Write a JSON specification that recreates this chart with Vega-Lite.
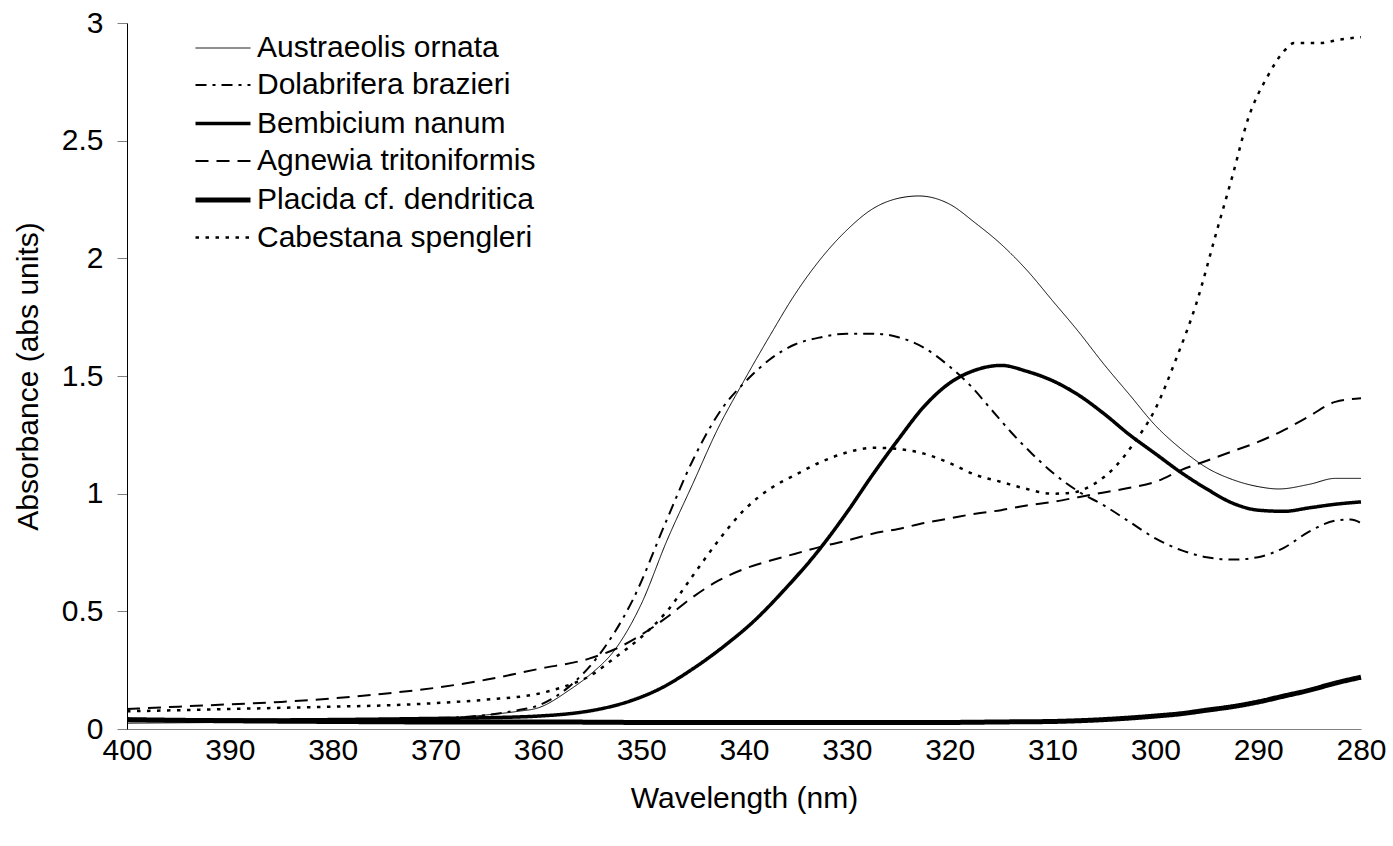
{
  "$schema": "https://vega.github.io/schema/vega-lite/v6.json",
  "width": 1234,
  "height": 706,
  "autosize": {"type": "none"},
  "padding": {"left": 127, "top": 23, "right": 32, "bottom": 117},
  "background": "white",
  "config": {
    "view": {"stroke": null},
    "font": "Liberation Sans",
    "axis": {
      "grid": false,
      "labelFont": "Liberation Sans",
      "labelFontSize": 30,
      "labelColor": "black",
      "labelFlush": false,
      "labelOverlap": false,
      "titleFont": "Liberation Sans",
      "titleFontSize": 30,
      "titleFontWeight": "normal",
      "titleColor": "black"
    }
  },
  "data": {
    "values": [
      {"species": "Austraeolis ornata", "nm": 400, "abs": 0.025},
      {"species": "Austraeolis ornata", "nm": 390, "abs": 0.028},
      {"species": "Austraeolis ornata", "nm": 380, "abs": 0.032},
      {"species": "Austraeolis ornata", "nm": 375, "abs": 0.035},
      {"species": "Austraeolis ornata", "nm": 370, "abs": 0.042},
      {"species": "Austraeolis ornata", "nm": 365, "abs": 0.06},
      {"species": "Austraeolis ornata", "nm": 362, "abs": 0.075},
      {"species": "Austraeolis ornata", "nm": 360, "abs": 0.09},
      {"species": "Austraeolis ornata", "nm": 357, "abs": 0.165},
      {"species": "Austraeolis ornata", "nm": 355, "abs": 0.23},
      {"species": "Austraeolis ornata", "nm": 352.5, "abs": 0.34},
      {"species": "Austraeolis ornata", "nm": 350, "abs": 0.53},
      {"species": "Austraeolis ornata", "nm": 347.5, "abs": 0.8},
      {"species": "Austraeolis ornata", "nm": 345, "abs": 1.04},
      {"species": "Austraeolis ornata", "nm": 342.5, "abs": 1.28},
      {"species": "Austraeolis ornata", "nm": 340, "abs": 1.48},
      {"species": "Austraeolis ornata", "nm": 337.5, "abs": 1.67},
      {"species": "Austraeolis ornata", "nm": 335, "abs": 1.85},
      {"species": "Austraeolis ornata", "nm": 332.5, "abs": 2.0},
      {"species": "Austraeolis ornata", "nm": 330, "abs": 2.12},
      {"species": "Austraeolis ornata", "nm": 327.5, "abs": 2.21},
      {"species": "Austraeolis ornata", "nm": 325, "abs": 2.255},
      {"species": "Austraeolis ornata", "nm": 323, "abs": 2.265},
      {"species": "Austraeolis ornata", "nm": 320, "abs": 2.23},
      {"species": "Austraeolis ornata", "nm": 317.5, "abs": 2.15},
      {"species": "Austraeolis ornata", "nm": 315, "abs": 2.06},
      {"species": "Austraeolis ornata", "nm": 312.5, "abs": 1.95},
      {"species": "Austraeolis ornata", "nm": 310, "abs": 1.82},
      {"species": "Austraeolis ornata", "nm": 307.5, "abs": 1.69},
      {"species": "Austraeolis ornata", "nm": 305, "abs": 1.55},
      {"species": "Austraeolis ornata", "nm": 302.5, "abs": 1.42},
      {"species": "Austraeolis ornata", "nm": 300, "abs": 1.29},
      {"species": "Austraeolis ornata", "nm": 297.5, "abs": 1.19},
      {"species": "Austraeolis ornata", "nm": 295, "abs": 1.11},
      {"species": "Austraeolis ornata", "nm": 292.5, "abs": 1.06},
      {"species": "Austraeolis ornata", "nm": 290, "abs": 1.03},
      {"species": "Austraeolis ornata", "nm": 288, "abs": 1.02},
      {"species": "Austraeolis ornata", "nm": 285, "abs": 1.04},
      {"species": "Austraeolis ornata", "nm": 282.5, "abs": 1.065},
      {"species": "Austraeolis ornata", "nm": 280, "abs": 1.065},

      {"species": "Dolabrifera brazieri", "nm": 400, "abs": 0.035},
      {"species": "Dolabrifera brazieri", "nm": 390, "abs": 0.035},
      {"species": "Dolabrifera brazieri", "nm": 380, "abs": 0.038},
      {"species": "Dolabrifera brazieri", "nm": 370, "abs": 0.045},
      {"species": "Dolabrifera brazieri", "nm": 365, "abs": 0.06},
      {"species": "Dolabrifera brazieri", "nm": 362, "abs": 0.08},
      {"species": "Dolabrifera brazieri", "nm": 360, "abs": 0.1},
      {"species": "Dolabrifera brazieri", "nm": 357, "abs": 0.18},
      {"species": "Dolabrifera brazieri", "nm": 354, "abs": 0.32},
      {"species": "Dolabrifera brazieri", "nm": 350.8, "abs": 0.55},
      {"species": "Dolabrifera brazieri", "nm": 347.5, "abs": 0.89},
      {"species": "Dolabrifera brazieri", "nm": 345, "abs": 1.14},
      {"species": "Dolabrifera brazieri", "nm": 342, "abs": 1.37},
      {"species": "Dolabrifera brazieri", "nm": 340, "abs": 1.47},
      {"species": "Dolabrifera brazieri", "nm": 337.5, "abs": 1.57},
      {"species": "Dolabrifera brazieri", "nm": 335, "abs": 1.635},
      {"species": "Dolabrifera brazieri", "nm": 332.5, "abs": 1.665},
      {"species": "Dolabrifera brazieri", "nm": 330, "abs": 1.68},
      {"species": "Dolabrifera brazieri", "nm": 327.5, "abs": 1.68},
      {"species": "Dolabrifera brazieri", "nm": 325, "abs": 1.665},
      {"species": "Dolabrifera brazieri", "nm": 322.5, "abs": 1.62},
      {"species": "Dolabrifera brazieri", "nm": 320, "abs": 1.54},
      {"species": "Dolabrifera brazieri", "nm": 318, "abs": 1.46},
      {"species": "Dolabrifera brazieri", "nm": 316, "abs": 1.36},
      {"species": "Dolabrifera brazieri", "nm": 314, "abs": 1.26},
      {"species": "Dolabrifera brazieri", "nm": 312, "abs": 1.17},
      {"species": "Dolabrifera brazieri", "nm": 310, "abs": 1.09},
      {"species": "Dolabrifera brazieri", "nm": 307.5, "abs": 1.01},
      {"species": "Dolabrifera brazieri", "nm": 305, "abs": 0.95},
      {"species": "Dolabrifera brazieri", "nm": 302.5, "abs": 0.88},
      {"species": "Dolabrifera brazieri", "nm": 300, "abs": 0.81},
      {"species": "Dolabrifera brazieri", "nm": 297.5, "abs": 0.76},
      {"species": "Dolabrifera brazieri", "nm": 295, "abs": 0.73},
      {"species": "Dolabrifera brazieri", "nm": 292.5, "abs": 0.72},
      {"species": "Dolabrifera brazieri", "nm": 290, "abs": 0.73},
      {"species": "Dolabrifera brazieri", "nm": 287.5, "abs": 0.77},
      {"species": "Dolabrifera brazieri", "nm": 285, "abs": 0.84},
      {"species": "Dolabrifera brazieri", "nm": 282.5, "abs": 0.885},
      {"species": "Dolabrifera brazieri", "nm": 281, "abs": 0.89},
      {"species": "Dolabrifera brazieri", "nm": 280, "abs": 0.875},

      {"species": "Bembicium nanum", "nm": 400, "abs": 0.04},
      {"species": "Bembicium nanum", "nm": 390, "abs": 0.038},
      {"species": "Bembicium nanum", "nm": 380, "abs": 0.04},
      {"species": "Bembicium nanum", "nm": 370, "abs": 0.045},
      {"species": "Bembicium nanum", "nm": 365, "abs": 0.048},
      {"species": "Bembicium nanum", "nm": 360, "abs": 0.055},
      {"species": "Bembicium nanum", "nm": 357, "abs": 0.065},
      {"species": "Bembicium nanum", "nm": 354, "abs": 0.085},
      {"species": "Bembicium nanum", "nm": 351, "abs": 0.12},
      {"species": "Bembicium nanum", "nm": 348, "abs": 0.175},
      {"species": "Bembicium nanum", "nm": 345, "abs": 0.255},
      {"species": "Bembicium nanum", "nm": 342, "abs": 0.35},
      {"species": "Bembicium nanum", "nm": 339, "abs": 0.46},
      {"species": "Bembicium nanum", "nm": 336, "abs": 0.595},
      {"species": "Bembicium nanum", "nm": 333, "abs": 0.745},
      {"species": "Bembicium nanum", "nm": 330, "abs": 0.92},
      {"species": "Bembicium nanum", "nm": 327.5, "abs": 1.08},
      {"species": "Bembicium nanum", "nm": 325, "abs": 1.23},
      {"species": "Bembicium nanum", "nm": 322.5, "abs": 1.37},
      {"species": "Bembicium nanum", "nm": 320, "abs": 1.47},
      {"species": "Bembicium nanum", "nm": 317.5, "abs": 1.525},
      {"species": "Bembicium nanum", "nm": 315, "abs": 1.545},
      {"species": "Bembicium nanum", "nm": 312.5, "abs": 1.52},
      {"species": "Bembicium nanum", "nm": 310, "abs": 1.48},
      {"species": "Bembicium nanum", "nm": 307.5, "abs": 1.42},
      {"species": "Bembicium nanum", "nm": 305, "abs": 1.34},
      {"species": "Bembicium nanum", "nm": 302.5, "abs": 1.25},
      {"species": "Bembicium nanum", "nm": 300, "abs": 1.17},
      {"species": "Bembicium nanum", "nm": 297.5, "abs": 1.09},
      {"species": "Bembicium nanum", "nm": 295, "abs": 1.02},
      {"species": "Bembicium nanum", "nm": 292.5, "abs": 0.96},
      {"species": "Bembicium nanum", "nm": 290, "abs": 0.93},
      {"species": "Bembicium nanum", "nm": 287.5, "abs": 0.925},
      {"species": "Bembicium nanum", "nm": 285, "abs": 0.94},
      {"species": "Bembicium nanum", "nm": 282.5, "abs": 0.955},
      {"species": "Bembicium nanum", "nm": 280, "abs": 0.965},

      {"species": "Agnewia tritoniformis", "nm": 400, "abs": 0.085},
      {"species": "Agnewia tritoniformis", "nm": 395, "abs": 0.095},
      {"species": "Agnewia tritoniformis", "nm": 390, "abs": 0.105},
      {"species": "Agnewia tritoniformis", "nm": 385, "abs": 0.115},
      {"species": "Agnewia tritoniformis", "nm": 380, "abs": 0.13},
      {"species": "Agnewia tritoniformis", "nm": 375, "abs": 0.15},
      {"species": "Agnewia tritoniformis", "nm": 370, "abs": 0.175},
      {"species": "Agnewia tritoniformis", "nm": 365, "abs": 0.21},
      {"species": "Agnewia tritoniformis", "nm": 360, "abs": 0.255},
      {"species": "Agnewia tritoniformis", "nm": 355, "abs": 0.3},
      {"species": "Agnewia tritoniformis", "nm": 352.5, "abs": 0.34},
      {"species": "Agnewia tritoniformis", "nm": 350, "abs": 0.4},
      {"species": "Agnewia tritoniformis", "nm": 347.5, "abs": 0.475},
      {"species": "Agnewia tritoniformis", "nm": 345, "abs": 0.56},
      {"species": "Agnewia tritoniformis", "nm": 342.5, "abs": 0.63},
      {"species": "Agnewia tritoniformis", "nm": 340, "abs": 0.68},
      {"species": "Agnewia tritoniformis", "nm": 337.5, "abs": 0.715},
      {"species": "Agnewia tritoniformis", "nm": 335, "abs": 0.745},
      {"species": "Agnewia tritoniformis", "nm": 332.5, "abs": 0.775},
      {"species": "Agnewia tritoniformis", "nm": 330, "abs": 0.8},
      {"species": "Agnewia tritoniformis", "nm": 327.5, "abs": 0.83},
      {"species": "Agnewia tritoniformis", "nm": 325, "abs": 0.85},
      {"species": "Agnewia tritoniformis", "nm": 322.5, "abs": 0.875},
      {"species": "Agnewia tritoniformis", "nm": 320, "abs": 0.895},
      {"species": "Agnewia tritoniformis", "nm": 317.5, "abs": 0.915},
      {"species": "Agnewia tritoniformis", "nm": 315, "abs": 0.93},
      {"species": "Agnewia tritoniformis", "nm": 312.5, "abs": 0.95},
      {"species": "Agnewia tritoniformis", "nm": 310, "abs": 0.965},
      {"species": "Agnewia tritoniformis", "nm": 307.5, "abs": 0.985},
      {"species": "Agnewia tritoniformis", "nm": 305, "abs": 1.005},
      {"species": "Agnewia tritoniformis", "nm": 302.5, "abs": 1.025},
      {"species": "Agnewia tritoniformis", "nm": 300, "abs": 1.05},
      {"species": "Agnewia tritoniformis", "nm": 297.5, "abs": 1.1},
      {"species": "Agnewia tritoniformis", "nm": 295, "abs": 1.14},
      {"species": "Agnewia tritoniformis", "nm": 292.5, "abs": 1.18},
      {"species": "Agnewia tritoniformis", "nm": 290, "abs": 1.22},
      {"species": "Agnewia tritoniformis", "nm": 287.5, "abs": 1.27},
      {"species": "Agnewia tritoniformis", "nm": 285, "abs": 1.33},
      {"species": "Agnewia tritoniformis", "nm": 282.5, "abs": 1.39},
      {"species": "Agnewia tritoniformis", "nm": 280, "abs": 1.405},

      {"species": "Placida cf. dendritica", "nm": 400, "abs": 0.04},
      {"species": "Placida cf. dendritica", "nm": 395, "abs": 0.037},
      {"species": "Placida cf. dendritica", "nm": 390, "abs": 0.035},
      {"species": "Placida cf. dendritica", "nm": 380, "abs": 0.032},
      {"species": "Placida cf. dendritica", "nm": 370, "abs": 0.03},
      {"species": "Placida cf. dendritica", "nm": 360, "abs": 0.03},
      {"species": "Placida cf. dendritica", "nm": 350, "abs": 0.028},
      {"species": "Placida cf. dendritica", "nm": 340, "abs": 0.028},
      {"species": "Placida cf. dendritica", "nm": 330, "abs": 0.028},
      {"species": "Placida cf. dendritica", "nm": 320, "abs": 0.028},
      {"species": "Placida cf. dendritica", "nm": 315, "abs": 0.03},
      {"species": "Placida cf. dendritica", "nm": 310, "abs": 0.032},
      {"species": "Placida cf. dendritica", "nm": 305, "abs": 0.04},
      {"species": "Placida cf. dendritica", "nm": 300, "abs": 0.055},
      {"species": "Placida cf. dendritica", "nm": 297.5, "abs": 0.065},
      {"species": "Placida cf. dendritica", "nm": 295, "abs": 0.08},
      {"species": "Placida cf. dendritica", "nm": 292.5, "abs": 0.095},
      {"species": "Placida cf. dendritica", "nm": 290, "abs": 0.115},
      {"species": "Placida cf. dendritica", "nm": 287.5, "abs": 0.14},
      {"species": "Placida cf. dendritica", "nm": 285, "abs": 0.165},
      {"species": "Placida cf. dendritica", "nm": 282.5, "abs": 0.195},
      {"species": "Placida cf. dendritica", "nm": 280, "abs": 0.22},

      {"species": "Cabestana spengleri", "nm": 400, "abs": 0.075},
      {"species": "Cabestana spengleri", "nm": 395, "abs": 0.08},
      {"species": "Cabestana spengleri", "nm": 390, "abs": 0.085},
      {"species": "Cabestana spengleri", "nm": 385, "abs": 0.09},
      {"species": "Cabestana spengleri", "nm": 380, "abs": 0.095},
      {"species": "Cabestana spengleri", "nm": 375, "abs": 0.1},
      {"species": "Cabestana spengleri", "nm": 370, "abs": 0.11},
      {"species": "Cabestana spengleri", "nm": 365, "abs": 0.125},
      {"species": "Cabestana spengleri", "nm": 360, "abs": 0.15},
      {"species": "Cabestana spengleri", "nm": 357.5, "abs": 0.18},
      {"species": "Cabestana spengleri", "nm": 355, "abs": 0.225},
      {"species": "Cabestana spengleri", "nm": 352.5, "abs": 0.305},
      {"species": "Cabestana spengleri", "nm": 350, "abs": 0.39},
      {"species": "Cabestana spengleri", "nm": 347.5, "abs": 0.5},
      {"species": "Cabestana spengleri", "nm": 345, "abs": 0.65},
      {"species": "Cabestana spengleri", "nm": 342.5, "abs": 0.8},
      {"species": "Cabestana spengleri", "nm": 340, "abs": 0.93},
      {"species": "Cabestana spengleri", "nm": 337.5, "abs": 1.02},
      {"species": "Cabestana spengleri", "nm": 335, "abs": 1.08},
      {"species": "Cabestana spengleri", "nm": 332.5, "abs": 1.135},
      {"species": "Cabestana spengleri", "nm": 330, "abs": 1.175},
      {"species": "Cabestana spengleri", "nm": 327.5, "abs": 1.195},
      {"species": "Cabestana spengleri", "nm": 325, "abs": 1.19},
      {"species": "Cabestana spengleri", "nm": 322.5, "abs": 1.17},
      {"species": "Cabestana spengleri", "nm": 320, "abs": 1.13},
      {"species": "Cabestana spengleri", "nm": 317.5, "abs": 1.08},
      {"species": "Cabestana spengleri", "nm": 315, "abs": 1.05},
      {"species": "Cabestana spengleri", "nm": 312.5, "abs": 1.02},
      {"species": "Cabestana spengleri", "nm": 310, "abs": 1.0},
      {"species": "Cabestana spengleri", "nm": 308, "abs": 1.005},
      {"species": "Cabestana spengleri", "nm": 306, "abs": 1.04},
      {"species": "Cabestana spengleri", "nm": 304, "abs": 1.11},
      {"species": "Cabestana spengleri", "nm": 302, "abs": 1.22},
      {"species": "Cabestana spengleri", "nm": 300, "abs": 1.36},
      {"species": "Cabestana spengleri", "nm": 298, "abs": 1.57},
      {"species": "Cabestana spengleri", "nm": 296, "abs": 1.81},
      {"species": "Cabestana spengleri", "nm": 294, "abs": 2.12},
      {"species": "Cabestana spengleri", "nm": 292.5, "abs": 2.35},
      {"species": "Cabestana spengleri", "nm": 291, "abs": 2.59},
      {"species": "Cabestana spengleri", "nm": 289, "abs": 2.78},
      {"species": "Cabestana spengleri", "nm": 287.5, "abs": 2.88},
      {"species": "Cabestana spengleri", "nm": 286.5, "abs": 2.915},
      {"species": "Cabestana spengleri", "nm": 284, "abs": 2.915},
      {"species": "Cabestana spengleri", "nm": 282, "abs": 2.93},
      {"species": "Cabestana spengleri", "nm": 280, "abs": 2.94}
    ]
  },
  "mark": {"type": "line", "interpolate": "monotone", "color": "black", "strokeCap": "butt"},
  "encoding": {
    "x": {
      "field": "nm",
      "type": "quantitative",
      "scale": {"domain": [280, 400], "reverse": true, "nice": false, "zero": false},
      "axis": {
        "title": "Wavelength (nm)",
        "values": [400, 390, 380, 370, 360, 350, 340, 330, 320, 310, 300, 290, 280],
        "ticks": false,
        "domainColor": "#808080",
        "domainWidth": 1,
        "labelPadding": 6,
        "titlePadding": 18
      }
    },
    "y": {
      "field": "abs",
      "type": "quantitative",
      "scale": {"domain": [0, 3], "nice": false},
      "axis": {
        "title": "Absorbance (abs units)",
        "values": [0, 0.5, 1, 1.5, 2, 2.5, 3],
        "format": "~g",
        "domainColor": "black",
        "domainWidth": 1,
        "tickColor": "#808080",
        "tickSize": 10,
        "labelPadding": 14,
        "titlePadding": 18
      }
    },
    "strokeDash": {
      "field": "species",
      "type": "ordinal",
      "sort": ["Austraeolis ornata", "Dolabrifera brazieri", "Bembicium nanum", "Agnewia tritoniformis", "Placida cf. dendritica", "Cabestana spengleri"],
      "scale": {
        "domain": ["Austraeolis ornata", "Dolabrifera brazieri", "Bembicium nanum", "Agnewia tritoniformis", "Placida cf. dendritica", "Cabestana spengleri"],
        "range": [[1, 0], [11, 6, 3, 6], [1, 0], [13, 8], [1, 0], [3.5, 6.5]]
      },
      "legend": {
        "title": null,
        "orient": "none",
        "legendX": 75,
        "legendY": 6,
        "padding": 0,
        "symbolType": "M-1.5,0H1.5",
        "symbolSize": 1344,
        "symbolStrokeColor": "black",
        "labelOffset": 13,
        "rowPadding": 2.5,
        "labelFont": "Liberation Sans",
        "labelFontSize": 30,
        "labelColor": "black",
        "labelLimit": 600
      }
    },
    "strokeWidth": {
      "field": "species",
      "type": "ordinal",
      "sort": ["Austraeolis ornata", "Dolabrifera brazieri", "Bembicium nanum", "Agnewia tritoniformis", "Placida cf. dendritica", "Cabestana spengleri"],
      "scale": {
        "type": "ordinal",
        "domain": ["Austraeolis ornata", "Dolabrifera brazieri", "Bembicium nanum", "Agnewia tritoniformis", "Placida cf. dendritica", "Cabestana spengleri"],
        "range": [1, 2, 3.5, 2, 5, 2.5]
      },
      "legend": {
        "title": null,
        "orient": "none",
        "legendX": 75,
        "legendY": 6,
        "padding": 0,
        "symbolType": "M-1.5,0H1.5",
        "symbolSize": 1344,
        "symbolStrokeColor": "black",
        "labelOffset": 13,
        "rowPadding": 2.5,
        "labelFont": "Liberation Sans",
        "labelFontSize": 30,
        "labelColor": "black",
        "labelLimit": 600
      }
    }
  }
}
